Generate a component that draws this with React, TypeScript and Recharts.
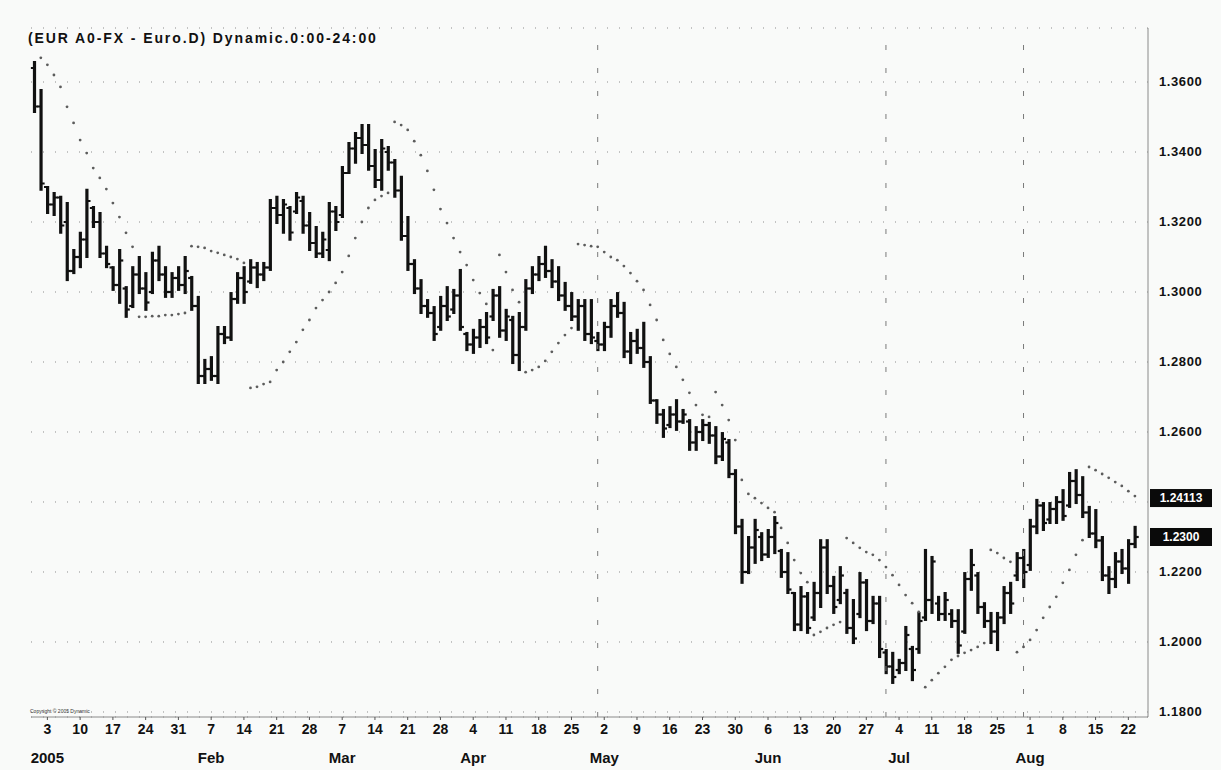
import React from 'react';
import { ComposedChart, Bar, Scatter, XAxis, YAxis, CartesianGrid, ReferenceLine } from 'recharts';

// daily EUR/USD bars, 30 Dec 2004 .. 23 Aug 2005 (index 0 = 30 Dec)
const highs = [
  1.3657, 1.3577, 1.33, 1.3283, 1.3272, 1.3254, 1.312, 1.3169, 1.3292, 1.3243,
  1.3226, 1.3129, 1.3071, 1.312, 1.3014, 1.3071, 1.31, 1.3054, 1.3112, 1.3129,
  1.3071, 1.3054, 1.3071, 1.31, 1.3043, 1.2986, 1.2806, 1.2814, 1.29, 1.29,
  1.2997, 1.3054, 1.3071, 1.3091, 1.3083, 1.3083, 1.3263, 1.3272, 1.3263, 1.3243,
  1.3283, 1.3272, 1.3226, 1.3186, 1.3169, 1.3254, 1.3243, 1.3357, 1.3426, 1.3454,
  1.3477, 1.3477, 1.3406, 1.3434, 1.3414, 1.3377, 1.3329, 1.3214, 1.3091, 1.3034,
  1.2977, 1.2957, 1.2986, 1.3014, 1.3006, 1.3063, 1.2883, 1.2892, 1.292, 1.294,
  1.3006, 1.3014, 1.2949, 1.2929, 1.294, 1.3034, 1.3071, 1.31, 1.3129, 1.3091,
  1.3071, 1.3026, 1.2997, 1.2977, 1.2977, 1.2977, 1.2883, 1.2912, 1.2977, 1.2997,
  1.2969, 1.2883, 1.2892, 1.2912, 1.2814, 1.2691, 1.2663, 1.2671, 1.2691, 1.2663,
  1.2634, 1.2614, 1.2634, 1.2626, 1.2614, 1.2597, 1.2577, 1.2491, 1.2349, 1.23,
  1.2349, 1.2311, 1.232, 1.2357, 1.2263, 1.2254, 1.214, 1.2157, 1.214, 1.2169,
  1.2291, 1.2291, 1.2186, 1.2214, 1.2149, 1.212, 1.2197, 1.2177, 1.2129, 1.2129,
  1.1977, 1.1969, 1.1949, 1.2043, 1.1986, 1.2083, 1.2263, 1.2243, 1.2129, 1.214,
  1.2091, 1.2091, 1.2197, 1.2263, 1.2197, 1.2111, 1.2083, 1.2083, 1.2157, 1.2169,
  1.2254, 1.2263, 1.2349, 1.2406, 1.2397, 1.2397, 1.2414, 1.2434, 1.2483, 1.2491,
  1.2471, 1.2386, 1.2377, 1.23, 1.2214, 1.2254, 1.2263, 1.2291, 1.2329,
];

const lows = [
  1.3514, 1.3292, 1.3226, 1.322, 1.3169, 1.3034, 1.3054, 1.3071, 1.31, 1.3186,
  1.31, 1.3071, 1.3006, 1.2969, 1.2929, 1.2957, 1.2997, 1.2949, 1.2997, 1.3034,
  1.2986, 1.2986, 1.3006, 1.2997, 1.2949, 1.274, 1.274, 1.2749, 1.274, 1.2854,
  1.2863, 1.2969, 1.2969, 1.3026, 1.3014, 1.3034, 1.3063, 1.3197, 1.3169, 1.3149,
  1.3226, 1.3169, 1.312, 1.31, 1.31, 1.3091, 1.3177, 1.3214, 1.334, 1.3369,
  1.3397, 1.3349, 1.33, 1.3292, 1.3349, 1.3272, 1.3149, 1.3063, 1.2997, 1.294,
  1.2929, 1.2863, 1.2892, 1.292, 1.294, 1.2892, 1.2834, 1.2826, 1.2843, 1.2854,
  1.292, 1.2872, 1.2863, 1.2797, 1.2777, 1.2892, 1.2997, 1.3034, 1.3043, 1.3014,
  1.2977, 1.2949, 1.292, 1.2892, 1.2863, 1.2854, 1.2834, 1.2834, 1.2872, 1.2929,
  1.2814, 1.2797, 1.2826, 1.2786, 1.2683, 1.2626, 1.2586, 1.2614, 1.2606, 1.2626,
  1.2549, 1.2549, 1.2577, 1.2569, 1.2511, 1.252, 1.2471, 1.2311, 1.2169, 1.2197,
  1.2226, 1.2234, 1.2243, 1.2254, 1.2186, 1.214, 1.2034, 1.2034, 1.2026, 1.2063,
  1.21, 1.214, 1.2083, 1.2111, 1.2026, 1.1997, 1.2071, 1.2034, 1.2054, 1.1957,
  1.1911, 1.1883, 1.1911, 1.192, 1.1891, 1.1969, 1.2063, 1.2083, 1.2063, 1.2063,
  1.2043, 1.1969, 1.2026, 1.2149, 1.2083, 1.2043, 1.1997, 1.1977, 1.2054, 1.2083,
  1.2177, 1.2157, 1.2206, 1.2311, 1.232, 1.234, 1.234, 1.2349, 1.2386, 1.2397,
  1.2357, 1.23, 1.2271, 1.2177, 1.214, 1.2157, 1.2197, 1.2169, 1.2271,
];

const opens = [
  1.364, 1.353, 1.33, 1.325, 1.327, 1.32, 1.306, 1.31, 1.315, 1.324,
  1.32, 1.311, 1.307, 1.302, 1.301, 1.296, 1.305, 1.301, 1.3, 1.309,
  1.305, 1.3, 1.304, 1.302, 1.304, 1.296, 1.276, 1.278, 1.276, 1.288,
  1.287, 1.298, 1.304, 1.303, 1.307, 1.305, 1.307, 1.324, 1.322, 1.324,
  1.323, 1.326, 1.319, 1.314, 1.311, 1.312, 1.323, 1.322, 1.334, 1.341,
  1.344, 1.342, 1.336, 1.332, 1.34, 1.337, 1.329, 1.316, 1.308, 1.301,
  1.296, 1.294, 1.29, 1.296, 1.295, 1.299, 1.288, 1.285, 1.287, 1.29,
  1.293, 1.299, 1.289, 1.292, 1.282, 1.29, 1.301, 1.305, 1.308, 1.306,
  1.303, 1.299, 1.296, 1.293, 1.296, 1.288, 1.286, 1.285, 1.29, 1.296,
  1.294, 1.283, 1.286, 1.284, 1.28, 1.269, 1.265, 1.262, 1.265, 1.263,
  1.263, 1.257, 1.26, 1.262, 1.259, 1.253, 1.257, 1.248, 1.233, 1.22,
  1.227, 1.23, 1.225, 1.23, 1.226, 1.22, 1.214, 1.205, 1.213, 1.207,
  1.214, 1.227, 1.216, 1.212, 1.214, 1.204, 1.208, 1.217, 1.206, 1.211,
  1.197, 1.193, 1.192, 1.194, 1.198, 1.198, 1.207, 1.212, 1.211, 1.208,
  1.208, 1.206, 1.203, 1.218, 1.219, 1.21, 1.206, 1.203, 1.207, 1.214,
  1.219, 1.224, 1.222, 1.233, 1.239, 1.235, 1.238, 1.24, 1.239, 1.246,
  1.242, 1.237, 1.231, 1.229, 1.219, 1.218, 1.223, 1.221, 1.228,
];

const closes = [
  1.353, 1.331, 1.325, 1.327, 1.319, 1.306, 1.31, 1.315, 1.326, 1.32,
  1.311, 1.308, 1.302, 1.309, 1.295, 1.305, 1.301, 1.297, 1.309, 1.305,
  1.3, 1.304, 1.302, 1.306, 1.296, 1.276, 1.278, 1.276, 1.288, 1.287,
  1.298, 1.304, 1.3, 1.307, 1.305, 1.307, 1.324, 1.322, 1.325, 1.317,
  1.327, 1.319, 1.314, 1.311, 1.315, 1.323, 1.32, 1.334, 1.341, 1.344,
  1.342, 1.336, 1.332, 1.341, 1.337, 1.329, 1.316, 1.308, 1.301, 1.296,
  1.294, 1.288, 1.296, 1.293, 1.299, 1.29, 1.285, 1.287, 1.29, 1.287,
  1.299, 1.289, 1.293, 1.282, 1.29, 1.301, 1.305, 1.308, 1.306, 1.303,
  1.299, 1.296, 1.293, 1.296, 1.288, 1.287, 1.285, 1.29, 1.296, 1.294,
  1.283, 1.286, 1.284, 1.28, 1.269, 1.265, 1.261, 1.265, 1.263, 1.265,
  1.257, 1.26, 1.262, 1.259, 1.253, 1.258, 1.248, 1.233, 1.22, 1.227,
  1.232, 1.225, 1.23, 1.234, 1.22, 1.215, 1.205, 1.213, 1.204, 1.214,
  1.227, 1.216, 1.21, 1.219, 1.204, 1.201, 1.217, 1.206, 1.211, 1.198,
  1.193, 1.19, 1.194, 1.202, 1.192, 1.206, 1.212, 1.223, 1.208, 1.212,
  1.206, 1.199, 1.218, 1.222, 1.21, 1.206, 1.203, 1.207, 1.214, 1.211,
  1.224, 1.22, 1.233, 1.239, 1.234, 1.238, 1.24, 1.236, 1.246, 1.242,
  1.237, 1.231, 1.229, 1.219, 1.218, 1.223, 1.221, 1.228, 1.23,
];

// parabolic SAR dots
const sar = [
  null, 1.3669, 1.3649, 1.362, 1.3586, 1.3529, 1.3483, 1.3434, 1.3397, 1.3354,
  1.3326, 1.3294, 1.3254, 1.3214, 1.3169, 1.3129, 1.2929, 1.2929, 1.2931, 1.2931,
  1.2934, 1.2934, 1.2937, 1.294, 1.3131, 1.3129, 1.3126, 1.3117, 1.3112, 1.3106,
  1.31, 1.3094, 1.3083, 1.2726, 1.2729, 1.2737, 1.2743, 1.2777, 1.28, 1.2829,
  1.2857, 1.2892, 1.292, 1.2954, 1.2977, 1.3, 1.3026, 1.3057, 1.3103, 1.3154,
  1.32, 1.324, 1.3263, 1.3274, 1.3283, 1.3486, 1.3477, 1.3463, 1.3431, 1.3391,
  1.3346, 1.3292, 1.3237, 1.3197, 1.3154, 1.3114, 1.3077, 1.3034, 1.2997, 1.2966,
  1.2834, 1.3106, 1.3057, 1.3006, 1.2971, 1.2771, 1.2777, 1.2786, 1.2803, 1.2829,
  1.2854, 1.2877, 1.2897, 1.3137, 1.3134, 1.3131, 1.3129, 1.3114, 1.31, 1.3091,
  1.3074, 1.3054, 1.3031, 1.3006, 1.2963, 1.292, 1.2863, 1.2823, 1.2786, 1.2749,
  1.2712, 1.2677, 1.2649, 1.2643, 1.2714, 1.2677, 1.2634, 1.2577, 1.2463, 1.2423,
  1.2411, 1.2397, 1.2383, 1.2371, 1.2326, 1.2283, 1.2234, 1.2197, 1.2171, 1.202,
  1.2029, 1.204, 1.2049, 1.2057, 1.2297, 1.2283, 1.2269, 1.2257, 1.2249, 1.2234,
  1.2214, 1.2191, 1.2163, 1.2134, 1.2111, 1.2086, 1.1871, 1.1891, 1.1911, 1.1929,
  1.1949, 1.196, 1.1969, 1.1977, 1.1986, 1.1997, 1.2263, 1.2254, 1.224, 1.2229,
  1.1971, 1.1986, 1.2006, 1.2034, 1.2069, 1.21, 1.2129, 1.2169, 1.2206, 1.2249,
  1.2291, 1.25, 1.2491, 1.248, 1.2469, 1.2457, 1.2446, 1.2431, 1.2417,
];

const weekLabels = [
  '3', '10', '17', '24', '31', '7', '14', '21', '28', '7', '14', '21', '28', '4', '11', '18', '25',
  '2', '9', '16', '23', '30', '6', '13', '20', '27', '4', '11', '18', '25', '1', '8', '15', '22',
];
const monthWeeks = [0, 5, 9, 13, 17, 22, 26, 30];
const monthNames = ['2005', 'Feb', 'Mar', 'Apr', 'May', 'Jun', 'Jul', 'Aug'];
const yTicks = [1.18, 1.2, 1.22, 1.24, 1.26, 1.28, 1.3, 1.32, 1.34, 1.36];
const hiddenYLabel = 1.24; // covered by the SAR tag in the original
const dividerDays = [86, 130, 151];
const sarLast = 1.24113;
const lastClose = 1.23;

const weekTicks = weekLabels.map((_, k) => 2 + k * 5);
const rows = highs.map((h, i) => ({
  i,
  high: h,
  low: lows[i],
  open: opens[i],
  close: closes[i],
  sar: sar[i],
}));

const FONT = '"Liberation Sans", Arial, sans-serif';

const OhlcBar = (props: any) => {
  const { x, y, width, height, payload } = props;
  if (!payload || x == null || y == null) return null;
  const top = Math.min(y, y + height);
  const h = Math.abs(height);
  const cx = x + width / 2;
  const span = payload.high - payload.low || 1;
  const yo = top + ((payload.high - payload.open) / span) * h;
  const yc = top + ((payload.high - payload.close) / span) * h;
  return (
    <g stroke="#111">
      <line x1={cx} x2={cx} y1={top - 1} y2={top + h + 1} strokeWidth={3.2} />
      <line x1={cx - 3.6} x2={cx} y1={yo} y2={yo} strokeWidth={2.2} />
      <line x1={cx} x2={cx + 3.6} y1={yc} y2={yc} strokeWidth={2.2} />
    </g>
  );
};

const SarDot = (props: any) => {
  const { cx, cy, payload } = props;
  if (payload == null || payload.sar == null || cx == null || cy == null) return null;
  return <circle cx={cx} cy={cy} r={1.4} fill="#5c5c5c" />;
};

const WeekTick = (props: any) => {
  const { x, y, payload } = props;
  const k = weekTicks.indexOf(payload.value);
  const m = monthWeeks.indexOf(k);
  return (
    <g fontFamily={FONT} fontWeight={700} fill="#111">
      <text x={x} y={y + 12} textAnchor="middle" fontSize={14}>
        {weekLabels[k]}
      </text>
      {m >= 0 && (
        <text x={x} y={y + 41} textAnchor="middle" fontSize={15}>
          {monthNames[m]}
        </text>
      )}
    </g>
  );
};

const PriceTick = (props: any) => {
  const { x, y, payload } = props;
  if (payload.value === hiddenYLabel) return null;
  return (
    <text x={x} y={y + 4} textAnchor="start" fill="#111" fontFamily={FONT} fontWeight={700} fontSize={13} letterSpacing={0.6}>
      {payload.value.toFixed(4)}
    </text>
  );
};

const PriceTag = ({ viewBox, text }: any) => {
  if (!viewBox) return null;
  const x0 = viewBox.x + viewBox.width + 2;
  return (
    <g>
      <rect x={x0} y={viewBox.y - 9} width={62} height={18} fill="#0a0a0a" />
      <text x={x0 + 31} y={viewBox.y + 4} textAnchor="middle" fill="#fff" fontFamily={FONT} fontWeight={700} fontSize={12}>
        {text}
      </text>
    </g>
  );
};

export default function App() {
  return (
    <div style={{ position: 'absolute', left: 0, top: 0, width: 1221, height: 770, background: '#f9faf9' }}>
      <ComposedChart width={1221} height={770} data={rows} margin={{ top: 28, right: 0, left: 31, bottom: 0 }}>
        <CartesianGrid vertical={false} stroke="#8c8c8c" strokeDasharray="1 11" />
        <XAxis
          dataKey="i"
          type="number"
          domain={[-0.5, 169.5]}
          ticks={weekTicks}
          interval={0}
          height={53}
          axisLine={{ stroke: '#8a8a8a' }}
          tickLine={{ stroke: '#555' }}
          tickSize={3}
          tick={<WeekTick />}
          allowDecimals={false}
        />
        <YAxis
          orientation="right"
          type="number"
          domain={[1.17857, 1.37543]}
          ticks={yTicks}
          width={73}
          axisLine={{ stroke: '#8a8a8a' }}
          tickLine={false}
          tickSize={6}
          tickMargin={5}
          tick={<PriceTick />}
          allowDataOverflow
        />
        {dividerDays.map((d) => (
          <ReferenceLine key={d} x={d} stroke="#7a7a7a" strokeDasharray="5 18" />
        ))}
        <Bar dataKey={(d: any) => [d.low, d.high]} barSize={5} shape={<OhlcBar />} isAnimationActive={false} />
        <Scatter dataKey="sar" shape={<SarDot />} isAnimationActive={false} />
        <ReferenceLine y={sarLast} stroke="none" label={<PriceTag text="1.24113" />} />
        <ReferenceLine y={lastClose} stroke="none" label={<PriceTag text="1.2300" />} />
      </ComposedChart>
      <div
        style={{
          position: 'absolute',
          left: 28,
          top: 30,
          fontFamily: FONT,
          fontWeight: 700,
          fontSize: 14,
          letterSpacing: 1.9,
          color: '#111',
          whiteSpace: 'nowrap',
        }}
      >
        (EUR A0-FX - Euro.D) Dynamic.0:00-24:00
      </div>
      <div
        style={{
          position: 'absolute',
          left: 30,
          top: 708,
          fontFamily: FONT,
          fontSize: 5,
          color: '#333',
          whiteSpace: 'nowrap',
        }}
      >
        Copyright © 2005 Dynamic
      </div>
    </div>
  );
}
